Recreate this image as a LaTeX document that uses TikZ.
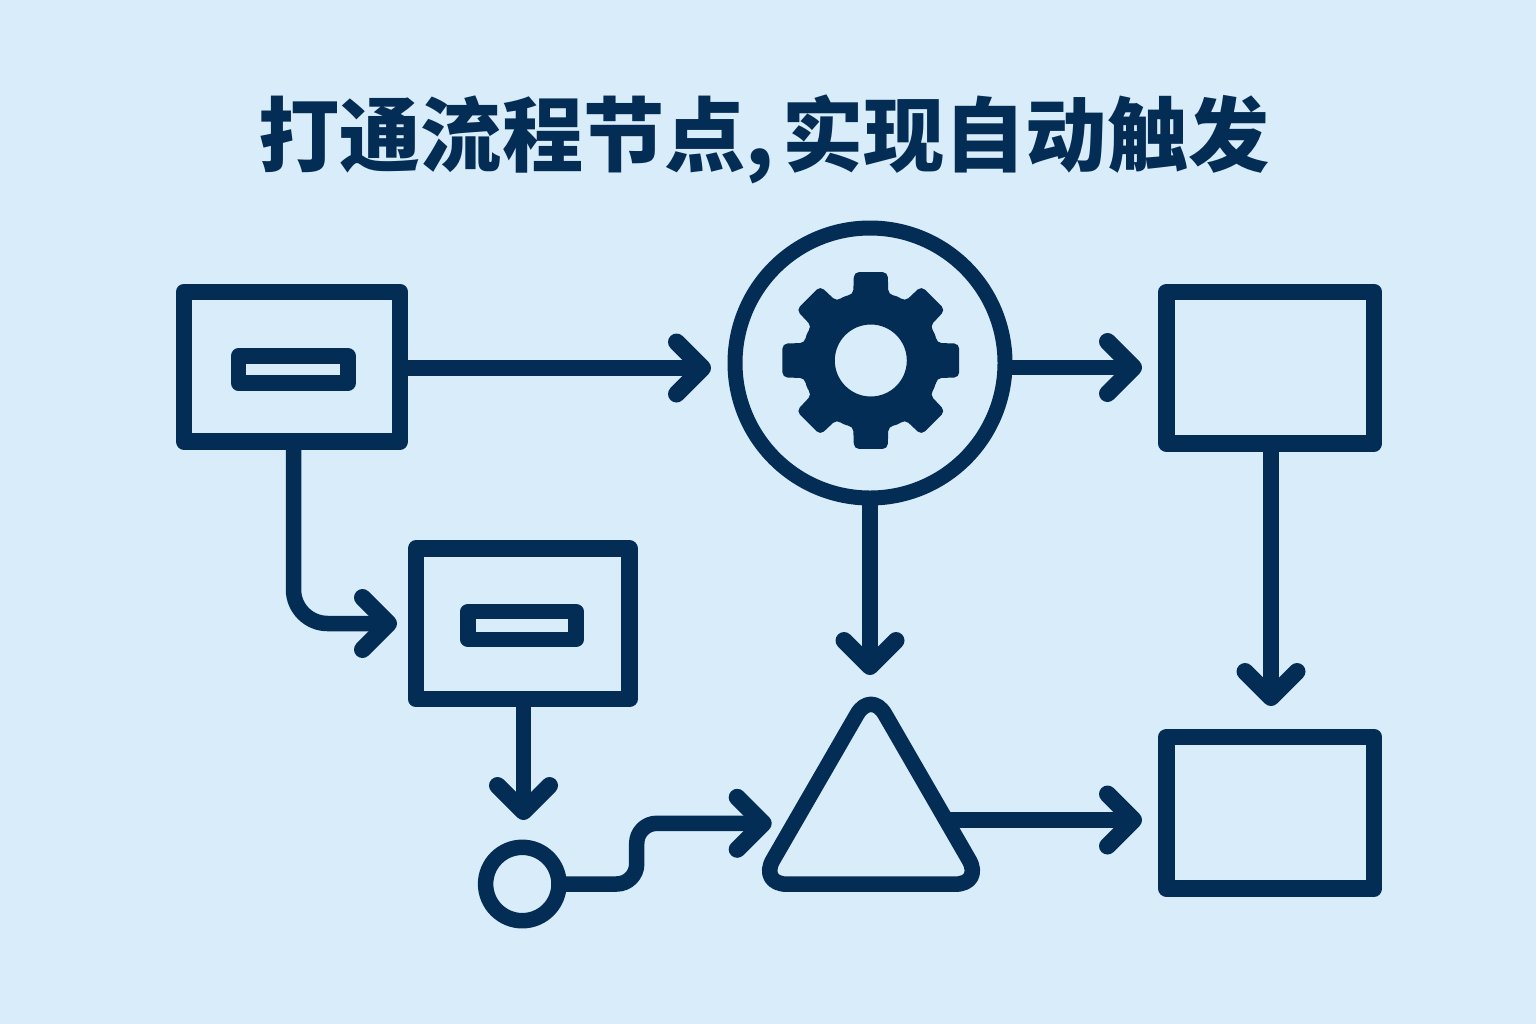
\documentclass[tikz,border=0pt]{standalone}
\usepackage{fontspec}
\newfontfamily\cjk{Noto Sans CJK SC}
\usetikzlibrary{arrows.meta,shapes.geometric}
\definecolor{navy}{RGB}{4,45,85}
\definecolor{bgblue}{RGB}{216,236,249}
\tikzset{
  shapebase/.style={draw=navy,outer sep=0pt,inner sep=0pt,line join=round},
  bigbox/.style={shapebase,rectangle,line width=8.25pt},
  slot/.style={shapebase,rectangle,line width=7.75pt},
  conn/.style={draw=navy,line width=7.75pt,line join=round,-{Straight Barb[length=13pt,width=26pt,round,line width=8.5pt]}},
  titletext/.style={text=navy,font=\cjk\bfseries\fontsize{40.6pt}{40.6pt}\selectfont,inner sep=0pt},
}
\begin{document}
\begin{tikzpicture}[x=0.5pt,y=-0.5pt]
\useasboundingbox (0,0) rectangle (1536,1024);
\fill[bgblue] (0,0) rectangle (1536,1024);
\node[titletext] (title) at (764,139) {打通流程节点,\kern4pt实现自动触发};
% boxes
\node[bigbox,minimum width=108pt,minimum height=74.75pt] (box1) at (292,366.75) {};
\node[slot,minimum width=54.75pt,minimum height=13.5pt] (slot1) at (293.25,369.5) {};
\node[bigbox,minimum width=106.75pt,minimum height=75.25pt] (box2) at (522.75,623.75) {};
\node[slot,minimum width=54pt,minimum height=14pt] (slot2) at (522,625.5) {};
\node[bigbox,minimum width=103.75pt,minimum height=75.75pt] (box3) at (1270.25,367.75) {};
\node[bigbox,minimum width=103.75pt,minimum height=75.75pt] (box4) at (1270.25,812.75) {};
\node[shapebase,circle,line width=7.5pt,minimum size=135pt] (hub) at (870,363) {};
\node[shapebase,circle,line width=7.75pt,minimum size=36.7pt] (dot) at (522.3,884) {};
\node[shapebase,regular polygon,regular polygon sides=3,line width=7.75pt,rounded corners=14pt,minimum size=129.4pt] (tri) at (871,819.5) {};
% gear
\fill[navy,even odd rule,rounded corners=2.5pt,shift={(870.8,360.5)}]
  (22.5:70)
  \foreach \a in {45,90,...,360}{
    -- (\a-15:68) -- (\a-10.8:90) -- (\a+10.8:90) -- (\a+15:68) -- (\a+22.5:70)
  } -- cycle
  (0:36) arc[start angle=0,end angle=360,radius=36];
% free ends
\coordinate (t1) at (711,368);
\coordinate (t2) at (397,623.5);
\coordinate (t3) at (523.5,820);
\coordinate (t4) at (771.7,823.3);
\coordinate (k1) at (636.7,884);
\coordinate (k2) at (636.7,823.3);
\coordinate (t5) at (1142,367.5);
\coordinate (t6) at (870,675);
\coordinate (t7) at (1271,706);
\coordinate (t8) at (1142,820);
% connectors
\draw[conn] (box1.east |- t1) -- (t1);
\draw[conn,rounded corners=17pt] ([xshift=.75pt]box1.south) |- (t2);
\draw[conn] (box2.south -| t3) -- (t3);
\draw[conn,rounded corners=10pt] (dot.east) -- (k1) -- (k2) -- (t4);
\draw[conn] (hub.east |- t5) -- (t5);
\draw[conn] (hub.south) -- (t6);
\draw[conn] (box3.south -| t7) -- (t7);
\draw[conn] (tri.east |- t8) -- (t8);
\end{tikzpicture}
\end{document}
